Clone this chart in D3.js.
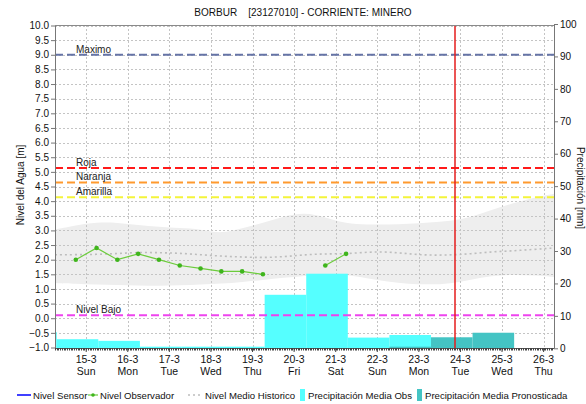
<!DOCTYPE html>
<html>
<head>
<meta charset="utf-8">
<script src="https://cdn.jsdelivr.net/npm/d3@7/dist/d3.min.js"></script>
<style>
  body { margin: 0; background: #fff; }
  svg { font-family: "Liberation Sans", Arial, sans-serif; }
</style>
</head>
<body>
<div id="chart"></div>
<script>
// observed water level (m), null = no reading
const obsDates = ["2020-03-14T18:00", "2020-03-15T06:00", "2020-03-15T18:00", "2020-03-16T06:00",
  "2020-03-16T18:00", "2020-03-17T06:00", "2020-03-17T18:00", "2020-03-18T06:00", "2020-03-18T18:00",
  "2020-03-19T06:00", "2020-03-19T18:00", "2020-03-20T06:00", "2020-03-20T18:00", "2020-03-21T06:00"];
const obsLevels = [2.0, 2.4, 2.0, 2.2, 2.0, 1.8, 1.7, 1.6, 1.6, 1.5, null, null, 1.8, 2.2];

// historic band and mean
const histDates = ["2020-03-14T06:00", "2020-03-14T18:00", "2020-03-15T06:00", "2020-03-15T18:00",
  "2020-03-16T06:00", "2020-03-16T18:00", "2020-03-17T06:00", "2020-03-17T18:00", "2020-03-18T06:00",
  "2020-03-18T18:00", "2020-03-19T06:00", "2020-03-19T18:00", "2020-03-20T06:00", "2020-03-20T18:00",
  "2020-03-21T06:00", "2020-03-21T18:00", "2020-03-22T06:00", "2020-03-22T18:00", "2020-03-23T06:00",
  "2020-03-23T18:00", "2020-03-24T06:00", "2020-03-24T18:00", "2020-03-25T06:00", "2020-03-25T18:00",
  "2020-03-26T06:00"];
const histUpper = [3.03, 3.18, 3.28, 3.27, 3.18, 3.12, 3.08, 3.05, 2.88, 3.08, 3.25, 3.48, 3.62, 3.45,
  3.23, 3.2, 3.2, 3.22, 3.27, 3.31, 3.45, 3.7, 3.92, 4.12, 4.25];
const histLower = [1.2, 1.18, 1.15, 1.14, 1.12, 1.11, 1.12, 1.15, 1.18, 1.24, 1.31, 1.38, 1.45, 1.5,
  1.5, 1.36, 1.25, 1.17, 1.15, 1.18, 1.32, 1.45, 1.49, 1.46, 1.41];
const histMean = [2.17, 2.17, 2.18, 2.21, 2.25, 2.24, 2.22, 2.17, 2.12, 2.09, 2.07, 2.1, 2.17, 2.2,
  2.2, 2.26, 2.27, 2.2, 2.15, 2.16, 2.2, 2.27, 2.3, 2.35, 2.4];

// daily precipitation (mm), day starting at 07:00
const precipObsDays = ["2020-03-13T07:00", "2020-03-14T07:00", "2020-03-15T07:00", "2020-03-16T07:00",
  "2020-03-17T07:00", "2020-03-18T07:00", "2020-03-19T07:00", "2020-03-20T07:00", "2020-03-21T07:00",
  "2020-03-22T07:00"];
const precipObs = [5.0, 2.8, 2.3, 0.5, 0.5, 0.5, 16.5, 23.0, 3.3, 4.1];
const precipPredDays = ["2020-03-22T07:00", "2020-03-23T07:00", "2020-03-24T07:00"];
const precipPred = [0.5, 3.4, 4.8];

// alert levels
const levelNames = ["Maximo", "Roja", "Naranja", "Amarilla", "Nivel Bajo"];
const levelValues = [9.0, 5.13, 4.64, 4.13, 0.1];
const levelColors = ["#6674a6", "#ff1a1a", "#ff9a2e", "#f4f43a", "#ee44ee"];

const nowDate = "2020-03-23T21:00";
const dayNames = ["Sun", "Mon", "Tue", "Wed", "Thu", "Fri", "Sat"];

const W = 586, H = 404;
const pLeft = 55, pRight = 554, pTop = 25, pBottom = 348;
const parse = d3.timeParse("%Y-%m-%dT%H:%M");

const svg = d3.select("#chart").append("svg")
    .attr("width", W).attr("height", H);

const x = d3.scaleTime()
    .domain([parse("2020-03-14T06:00"), parse("2020-03-26T06:00")])
    .range([pLeft, pRight]);
const y = d3.scaleLinear().domain([-1, 10]).range([347.5, 25.5]);
const y2 = d3.scaleLinear().domain([0, 100]).range([348.3, 24]);

svg.append("defs").append("clipPath").attr("id", "plot")
    .append("rect").attr("x", pLeft).attr("y", pTop).attr("width", pRight - pLeft).attr("height", pBottom - pTop);

const plot = svg.append("g").attr("clip-path", "url(#plot)");

// historic band
const hist = histDates.map((d, i) => ({ t: parse(d), hi: histUpper[i], lo: histLower[i], m: histMean[i] }));
plot.append("path")
    .datum(hist)
    .attr("fill", "#eeeeee")
    .attr("d", d3.area().curve(d3.curveBasis)
        .x(d => x(d.t)).y0(d => y(d.lo)).y1(d => y(d.hi)));

// grid
const yTicks = d3.range(-1, 10.01, 0.5);
const days = d3.timeDay.range(parse("2020-03-15T00:00"), parse("2020-03-26T12:00"));
plot.selectAll(".hgrid").data(yTicks).enter().append("line")
    .attr("x1", pLeft).attr("x2", pRight)
    .attr("y1", d => Math.round(y(d)) + 0.5).attr("y2", d => Math.round(y(d)) + 0.5)
    .attr("stroke", "#c4c4c4").attr("stroke-dasharray", "2,2");
plot.selectAll(".vgrid").data(days).enter().append("line")
    .attr("x1", d => Math.round(x(d)) + 0.5).attr("x2", d => Math.round(x(d)) + 0.5)
    .attr("y1", pTop).attr("y2", pBottom)
    .attr("stroke", "#c4c4c4").attr("stroke-dasharray", "2,2");

// mean historic
plot.append("path")
    .datum(hist)
    .attr("fill", "none").attr("stroke", "#bdbdbd").attr("stroke-width", 1.6)
    .attr("stroke-dasharray", "2,3")
    .attr("d", d3.line().curve(d3.curveBasis).x(d => x(d.t)).y(d => y(d.m)));

// precipitation bars
function bars(dates, vals, color) {
  plot.append("g").selectAll("rect")
      .data(dates.map((d, i) => ({ t: parse(d), v: vals[i] })))
      .enter().append("rect")
      .attr("x", d => x(d.t))
      .attr("width", d => x(d3.timeDay.offset(d.t, 1)) - x(d.t))
      .attr("y", d => y2(d.v))
      .attr("height", d => y2(0) - y2(d.v))
      .attr("fill", color);
}
bars(precipObsDays, precipObs, "#55ffff");
bars(precipPredDays, precipPred, "#44c4c4");

// alert levels
levelNames.forEach((name, i) => {
  plot.append("line")
      .attr("x1", pLeft).attr("x2", pRight)
      .attr("y1", y(levelValues[i])).attr("y2", y(levelValues[i]))
      .attr("stroke", levelColors[i]).attr("stroke-width", 2)
      .attr("stroke-dasharray", "8,4");
  svg.append("text")
      .attr("x", 76).attr("y", y(levelValues[i]) - 2)
      .attr("font-size", 10).attr("fill", "#222")
      .text(name);
});

// observed level
const obs = obsDates.map((d, i) => ({ t: parse(d), v: obsLevels[i] }));
plot.append("path")
    .datum(obs)
    .attr("fill", "none").attr("stroke", "#6ccc3c").attr("stroke-width", 1.2)
    .attr("d", d3.line().defined(d => d.v != null).x(d => x(d.t)).y(d => y(d.v)));
plot.selectAll(".pt").data(obs.filter(d => d.v != null)).enter().append("circle")
    .attr("cx", d => x(d.t)).attr("cy", d => y(d.v)).attr("r", 2.3)
    .attr("fill", "#3fb51c");

// current time marker
plot.append("line")
    .attr("x1", Math.round(x(parse(nowDate)))).attr("x2", Math.round(x(parse(nowDate))))
    .attr("y1", pTop).attr("y2", pBottom)
    .attr("stroke", "#e41c1c").attr("stroke-width", 1.5);

// frame and axes
svg.append("line").attr("x1", pLeft).attr("x2", pRight).attr("y1", pTop + 0.5).attr("y2", pTop + 0.5)
    .attr("stroke", "#8a8a8a");

const yAxis = svg.append("g").attr("transform", `translate(${pLeft},0)`)
    .call(d3.axisLeft(y).tickValues(yTicks).tickFormat(d3.format(".1f")).tickSize(4).tickSizeOuter(0));
yAxis.select(".domain").attr("stroke", "#777");
yAxis.selectAll(".tick line").attr("stroke", "#777");
yAxis.selectAll("text").attr("font-size", 10).attr("fill", "#111")
    .attr("font-family", "Liberation Sans, Arial, sans-serif").attr("x", -6);

const y2Axis = svg.append("g").attr("transform", `translate(${pRight},0)`)
    .call(d3.axisRight(y2).tickValues(d3.range(0, 101, 10)).tickSize(4).tickSizeOuter(0));
y2Axis.select(".domain").attr("stroke", "#777");
y2Axis.selectAll(".tick line").attr("stroke", "#777");
y2Axis.selectAll("text").attr("font-size", 10).attr("fill", "#111")
    .attr("font-family", "Liberation Sans, Arial, sans-serif").attr("x", 6);

// bottom axis with hourly minor ticks
svg.append("line").attr("x1", pLeft).attr("x2", pRight).attr("y1", pBottom + 0.5).attr("y2", pBottom + 0.5)
    .attr("stroke", "#555");
svg.append("g").selectAll("line")
    .data(d3.timeHour.range(x.domain()[0], x.domain()[1]))
    .enter().append("line")
    .attr("x1", d => Math.round(x(d)) + 0.5).attr("x2", d => Math.round(x(d)) + 0.5)
    .attr("y1", pBottom).attr("y2", pBottom + 2.5)
    .attr("stroke", "#444");
const fmtDay = d3.timeFormat("%-d-%-m");
const xl = svg.append("g").selectAll("g").data(days).enter().append("g")
    .attr("transform", d => `translate(${x(d)},0)`);
xl.append("line").attr("y1", pBottom).attr("y2", pBottom + 4).attr("stroke", "#444");
xl.append("text").attr("y", 363).attr("text-anchor", "middle").attr("font-size", 10.5).attr("fill", "#111")
    .text(d => fmtDay(d));
xl.append("text").attr("y", 375).attr("text-anchor", "middle").attr("font-size", 10.5).attr("fill", "#111")
    .text(d => dayNames[d.getDay()]);

// title and axis labels
svg.append("text").attr("x", 303).attr("y", 16).attr("text-anchor", "middle")
    .attr("font-size", 10).attr("fill", "#111").style("white-space", "pre")
    .text("BORBUR    [23127010] - CORRIENTE: MINERO");
svg.append("text").attr("transform", "translate(24,185) rotate(-90)")
    .attr("text-anchor", "middle").attr("font-size", 10).attr("fill", "#111")
    .text("Nivel del Agua [m]");
svg.append("text").attr("transform", "translate(577,188) rotate(90)")
    .attr("text-anchor", "middle").attr("font-size", 10).attr("fill", "#111")
    .text("Precipitación [mm]");

// legend
const ly = 395;
const lg = svg.append("g").attr("font-size", 9.6).attr("fill", "#111");
lg.append("line").attr("x1", 17).attr("x2", 31).attr("y1", ly).attr("y2", ly).attr("stroke", "#0000ff").attr("stroke-width", 1.5);
lg.append("text").attr("x", 33).attr("y", ly + 4).text("Nivel Sensor");
lg.append("line").attr("x1", 88).attr("x2", 98).attr("y1", ly).attr("y2", ly).attr("stroke", "#6ccc3c").attr("stroke-width", 1.2);
lg.append("circle").attr("cx", 93).attr("cy", ly).attr("r", 1.8).attr("fill", "#3fb51c");
lg.append("text").attr("x", 100).attr("y", ly + 4).text("Nivel Observador");
lg.append("line").attr("x1", 188).attr("x2", 202).attr("y1", ly).attr("y2", ly).attr("stroke", "#bdbdbd").attr("stroke-width", 1.5).attr("stroke-dasharray", "2,3");
lg.append("text").attr("x", 205).attr("y", ly + 4).text("Nivel Medio Historico");
lg.append("rect").attr("x", 300).attr("y", ly - 6).attr("width", 5).attr("height", 12).attr("fill", "#55ffff");
lg.append("text").attr("x", 308).attr("y", ly + 4).text("Precipitación Media Obs");
lg.append("rect").attr("x", 417).attr("y", ly - 6).attr("width", 5).attr("height", 12).attr("fill", "#44c4c4");
lg.append("text").attr("x", 425).attr("y", ly + 4).text("Precipitación Media Pronosticada");
</script>
</body>
</html>
